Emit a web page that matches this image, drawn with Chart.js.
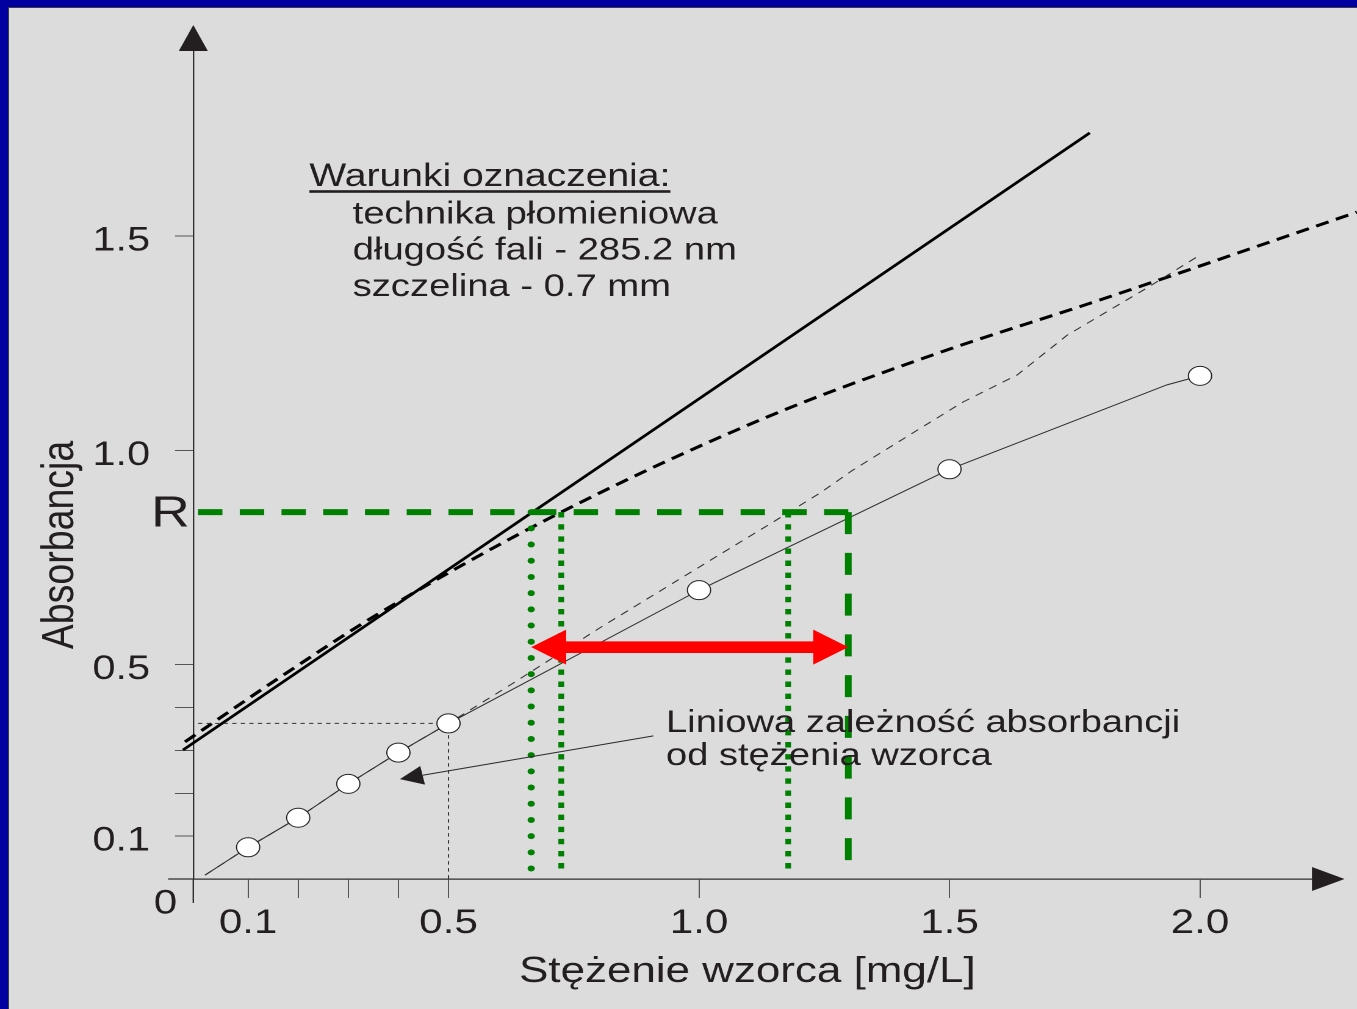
<!DOCTYPE html>
<html lang="pl">
<head>
<meta charset="utf-8">
<title>Absorbancja – krzywa wzorcowa</title>
<script src="https://cdn.jsdelivr.net/npm/chart.js@4.4.1/dist/chart.umd.min.js"></script>
<style>
  html, body { margin: 0; padding: 0; width: 1357px; height: 1009px; overflow: hidden; background: #0000a0; }
  #panel { position: absolute; left: 8px; top: 7px; right: 0; bottom: 0; background: #dcdcdc;
           border-left: 1px solid #3a3a48; border-top: 1px solid #3a3a48; }
  /* the figure is drawn on a narrower canvas and widened, giving the broad lettering of the slide */
  #stretch { position: absolute; left: 0; top: 0; width: 1112px; height: 1009px;
             transform: scaleX(1.22032); transform-origin: 0 0; }
</style>
</head>
<body>
<div id="panel"></div>
<div id="stretch"><canvas id="chart"></canvas></div>
<script>
// ---- axis ticks ----
const concTicks = [0.1, 0.2, 0.3, 0.4, 0.5, 1.0, 1.5, 2.0];
const concTickLabels = ['0.1', '', '', '', '0.5', '1.0', '1.5', '2.0'];
const absTicks = [0.1, 0.2, 0.3, 0.4, 0.5, 1.0, 1.5];
const absTickLabels = ['0.1', '', '', '', '0.5', '1.0', '1.5'];

// ---- standards: concentration [mg/L] and absorbance ----
const stdConc = [0.1, 0.2, 0.3, 0.4, 0.5, 1.0, 1.5, 2.0];
const stdAbs  = [0.074, 0.143, 0.222, 0.295, 0.363, 0.674, 0.956, 1.174];

// measured calibration line through the standards
const measConc = [0.014, 0.1, 0.2, 0.3, 0.4, 0.5, 1.0, 1.5, 1.934, 2.0];
const measAbs  = [0.009, 0.074, 0.143, 0.222, 0.295, 0.363, 0.674, 0.956, 1.153, 1.174];

// thin dashed trace
const traceConc = [0.014, 0.1, 0.2, 0.3, 0.4, 0.5, 0.629, 0.802, 0.988, 1.148, 1.242, 1.307, 1.427, 1.527, 1.635, 1.735, 1.894, 2.0];
const traceAbs  = [0.009, 0.074, 0.143, 0.222, 0.295, 0.363, 0.457, 0.586, 0.719, 0.833, 0.901, 0.954, 1.041, 1.113, 1.176, 1.269, 1.379, 1.456];

// straight line (thick solid)
const lineConc = [-0.030, 1.780];
const lineAbs  = [0.301, 1.741];

// bending curve (thick dashed)
const curveConc = [-0.026, 0.164, 0.363, 0.725, 1.136, 1.467, 1.800, 2.313];
const curveAbs  = [0.320, 0.471, 0.621, 0.856, 1.078, 1.223, 1.351, 1.556];

// absorbance R and the concentrations
const rAbs = 0.856;
const rConcLine = 0.665;
const rConcCurve = 0.725;
const rConcTrace = 1.178;
const rConcMeas = 1.298;
const dropAbs = 0.012;

// double arrow spanning the readings
const rangeAbs = 0.541;

// dotted guide at the 0.5 mg/L standard
const guideConc = 0.5;
const guideAbs = 0.363;

// pointer from the label to the measured line
const pointerFrom = [0.909, 0.334];
const pointerTo = [0.403, 0.233];

// ---- texts ----
const conditionsTitle = 'Warunki oznaczenia:';
const conditionsLines = ['technika płomieniowa', 'długość fali - 285.2 nm', 'szczelina - 0.7 mm'];
const lineLabel = ['Liniowa zależność absorbancji', 'od stężenia wzorca'];
const xTitle = 'Stężenie wzorca [mg/L]';
const yTitle = 'Absorbancja';

const FONT = "'Liberation Sans', Arial, Helvetica, sans-serif";
const INK = '#231f20';
const AXIS = '#2e2e2e';
const GREEN = '#008000';

const pts = (xs, ys) => xs.map((x, i) => ({ x, y: ys[i] }));
const seg = (x0, y0, x1, y1) => [{ x: x0, y: y0 }, { x: x1, y: y1 }];

const lineBase = { showLine: true, pointRadius: 0, pointHoverRadius: 0, fill: false, tension: 0 };

const decor = {
  id: 'decor',
  afterDatasetsDraw(chart) {
    const { ctx, scales: { x, y } } = chart;
    ctx.save();
    // red double arrow
    const xa = x.getPixelForValue(rConcLine), xb = x.getPixelForValue(rConcMeas), ya = y.getPixelForValue(rangeAbs);
    const L = 28.7, H = 17.5, T = 5.8;
    ctx.fillStyle = '#ff0000';
    ctx.beginPath();
    ctx.moveTo(xa, ya);
    ctx.lineTo(xa + L, ya - H); ctx.lineTo(xa + L, ya - T);
    ctx.lineTo(xb - L, ya - T); ctx.lineTo(xb - L, ya - H);
    ctx.lineTo(xb, ya);
    ctx.lineTo(xb - L, ya + H); ctx.lineTo(xb - L, ya + T);
    ctx.lineTo(xa + L, ya + T); ctx.lineTo(xa + L, ya + H);
    ctx.closePath();
    ctx.fill();

    // pointer arrow
    const p0x = x.getPixelForValue(pointerFrom[0]), p0y = y.getPixelForValue(pointerFrom[1]);
    const p1x = x.getPixelForValue(pointerTo[0]), p1y = y.getPixelForValue(pointerTo[1]);
    const dx = p1x - p0x, dy = p1y - p0y, len = Math.hypot(dx, dy);
    const ux = dx / len, uy = dy / len, hl = 19, hw = 9.5;
    const bx = p1x - ux * hl, by = p1y - uy * hl;
    ctx.strokeStyle = '#2a2a2a';
    ctx.lineWidth = 1.1;
    ctx.beginPath(); ctx.moveTo(p0x, p0y); ctx.lineTo(bx, by); ctx.stroke();
    ctx.fillStyle = INK;
    ctx.beginPath();
    ctx.moveTo(p1x, p1y);
    ctx.lineTo(bx - uy * hw, by + ux * hw);
    ctx.lineTo(bx + uy * hw, by - ux * hw);
    ctx.closePath();
    ctx.fill();
    ctx.restore();
  },
  afterDraw(chart) {
    const { ctx, chartArea: a } = chart;
    ctx.save();
    // axis lines running past the origin
    ctx.strokeStyle = AXIS;
    ctx.lineWidth = 1.2;
    ctx.beginPath();
    ctx.moveTo(a.left - 20.7, a.bottom); ctx.lineTo(a.left, a.bottom);
    ctx.moveTo(a.left, a.bottom); ctx.lineTo(a.left, a.bottom + 24);
    ctx.stroke();
    // arrowheads at the axis ends
    ctx.fillStyle = INK;
    ctx.beginPath();
    ctx.moveTo(a.left, a.top - 26); ctx.lineTo(a.left - 11.9, a.top); ctx.lineTo(a.left + 11.9, a.top);
    ctx.closePath(); ctx.fill();
    ctx.beginPath();
    ctx.moveTo(a.right + 26.7, a.bottom); ctx.lineTo(a.right, a.bottom - 12); ctx.lineTo(a.right, a.bottom + 12);
    ctx.closePath(); ctx.fill();

    // conditions block
    ctx.textBaseline = 'alphabetic';
    ctx.textAlign = 'left';
    ctx.font = `32px ${FONT}`;
    ctx.fillText(conditionsTitle, 253.5, 186);
    const w = ctx.measureText(conditionsTitle).width;
    ctx.fillRect(253.5, 190.2, w, 2.6);
    ctx.font = `31.3px ${FONT}`;
    const condY = [223.5, 259.5, 296];
    conditionsLines.forEach((t, i) => ctx.fillText(t, 289, condY[i]));
    // label of the measured line
    ctx.font = `31.2px ${FONT}`;
    ctx.fillText(lineLabel[0], 545.8, 732);
    ctx.fillText(lineLabel[1], 545.8, 765);

    // R, origin and axis titles
    ctx.textAlign = 'center';
    ctx.font = `44px ${FONT}`;
    ctx.fillText('R', 139.7, 526.7);
    ctx.font = `34.5px ${FONT}`;
    ctx.fillText('0', 135.6, 913.3);
    ctx.font = `36px ${FONT}`;
    ctx.fillText(xTitle, 612.4, 982);
    ctx.font = `37.5px ${FONT}`;
    ctx.translate(59.8, 545);
    ctx.rotate(-Math.PI / 2);
    ctx.fillText(yTitle, 0, 0);
    ctx.restore();
  }
};

new Chart(document.getElementById('chart'), {
  type: 'scatter',
  data: {
    datasets: [
      { label: 'wzorce', data: pts(stdConc, stdAbs), showLine: false, pointRadius: 9.5, pointHoverRadius: 9.5,
        pointBackgroundColor: '#ffffff', pointBorderColor: '#262626', pointBorderWidth: 1, order: 0 },
      { ...lineBase, label: 'R', data: seg(0, rAbs, rConcMeas, rAbs), borderColor: GREEN, borderWidth: 6,
        borderDash: [20, 14.2], order: 1 },
      { ...lineBase, label: 'R pomiar', data: seg(rConcMeas, rAbs, rConcMeas, dropAbs), borderColor: GREEN, borderWidth: 5.5,
        borderDash: [22, 18.75], order: 1 },
      { ...lineBase, label: 'R prosta', data: seg(rConcLine, rAbs, rConcLine, dropAbs), borderColor: GREEN, borderWidth: 6,
        borderDash: [0, 16.2], borderCapStyle: 'round', order: 1 },
      { ...lineBase, label: 'R krzywa', data: seg(rConcCurve, rAbs, rConcCurve, dropAbs), borderColor: GREEN, borderWidth: 4.7,
        borderDash: [5.4, 6.7], order: 1 },
      { ...lineBase, label: 'R przebieg', data: seg(rConcTrace, rAbs, rConcTrace, dropAbs), borderColor: GREEN, borderWidth: 4.7,
        borderDash: [5.4, 6.7], order: 1 },
      { ...lineBase, label: 'pomiar', data: pts(measConc, measAbs), borderColor: '#2e2e2e', borderWidth: 1, order: 2 },
      { ...lineBase, label: 'przebieg', data: pts(traceConc, traceAbs), borderColor: '#2e2e2e', borderWidth: 1,
        borderDash: [7, 6], order: 3 },
      { ...lineBase, label: 'odczyt 0.5', data: [{ x: 0, y: guideAbs }, { x: guideConc, y: guideAbs }, { x: guideConc, y: 0 }],
        borderColor: '#333333', borderWidth: 1, borderDash: [3.5, 3.5], order: 3 },
      { ...lineBase, label: 'prosta', data: pts(lineConc, lineAbs), borderColor: '#000000', borderWidth: 2.6,
        clip: false, order: 4 },
      { ...lineBase, label: 'krzywa', data: pts(curveConc, curveAbs), borderColor: '#000000', borderWidth: 3,
        borderDash: [11, 6.5], cubicInterpolationMode: 'monotone', clip: false, order: 4 }
    ]
  },
  options: {
    responsive: true,
    maintainAspectRatio: false,
    devicePixelRatio: 2,
    animation: false,
    events: [],
    layout: { padding: { top: 51, right: 36.9, bottom: 0, left: 0 } },
    plugins: { legend: { display: false }, tooltip: { enabled: false }, title: { display: false } },
    scales: {
      x: {
        type: 'linear', min: -0.0094, max: 2.2235,
        afterBuildTicks: s => { s.ticks = concTicks.map(v => ({ value: v })); },
        afterFit: s => { s.height = 130; },
        ticks: { autoSkip: false, maxRotation: 0, minRotation: 0, padding: 5, color: INK,
                 font: { family: FONT, size: 34.5 }, callback: (v, i) => concTickLabels[i] },
        grid: { display: true, drawOnChartArea: false, drawTicks: true, tickLength: 19, tickColor: '#555555', tickWidth: 1 },
        border: { display: true, color: AXIS, width: 1.2 }
      },
      y: {
        type: 'linear', min: 0, max: 1.932,
        afterBuildTicks: s => { s.ticks = absTicks.map(v => ({ value: v })); },
        afterFit: s => { s.width = 158.4; },
        ticks: { autoSkip: false, padding: 20.4, labelOffset: 5, color: INK,
                 font: { family: FONT, size: 34 }, callback: (v, i) => absTickLabels[i] },
        grid: { display: true, drawOnChartArea: false, drawTicks: true, tickLength: 15, tickColor: '#555555', tickWidth: 1 },
        border: { display: true, color: AXIS, width: 1.2 }
      }
    }
  },
  plugins: [decor]
});
</script>
</body>
</html>
